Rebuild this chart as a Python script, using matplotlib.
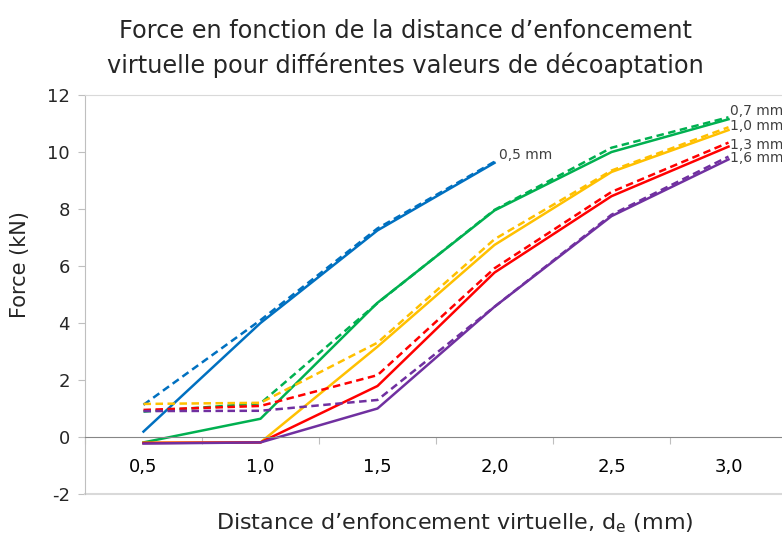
import matplotlib.pyplot as plt

# donnees
x = [0.5, 1.0, 1.5, 2.0, 2.5, 3.0]
x_labels = ["0,5", "1,0", "1,5", "2,0", "2,5", "3,0"]

f05_solid = [0.19, 4.0, 7.25, 9.62]
f05_dash = [1.13, 4.1, 7.32, 9.66]
f07_solid = [-0.19, 0.64, 4.71, 7.95, 10.0, 11.15]
f07_dash = [0.89, 1.18, 4.7, 7.97, 10.15, 11.22]
f10_solid = [-0.2, -0.19, 3.17, 6.74, 9.3, 10.77]
f10_dash = [1.16, 1.2, 3.31, 6.94, 9.35, 10.87]
f13_solid = [-0.21, -0.19, 1.79, 5.77, 8.45, 10.19]
f13_dash = [0.95, 1.09, 2.17, 5.92, 8.6, 10.33]
f16_solid = [-0.23, -0.19, 1.0, 4.57, 7.75, 9.74]
f16_dash = [0.91, 0.92, 1.3, 4.57, 7.8, 9.84]

labels = ["0,5 mm", "0,7 mm", "1,0 mm", "1,3 mm", "1,6 mm"]
label_pos = [(2.02, 9.9), (3.005, 11.44), (3.005, 10.91), (3.005, 10.25), (3.005, 9.79)]

blue = "#0070C0"
green = "#00B050"
yellow = "#FFC000"
red = "#FF0000"
purple = "#7030A0"

fig = plt.figure(figsize=(7.82, 5.39), dpi=100)
ax = fig.add_axes([0.1087, 0.0835, 0.8977, 0.7402])

lw = 1.8
ax.plot(x[:4], f05_solid, c=blue, lw=lw)
ax.plot(x[:4], f05_dash, c=blue, lw=lw, ls=(0, (3, 1.8)))
for solid, dash, col in [(f07_solid, f07_dash, green), (f10_solid, f10_dash, yellow),
                         (f13_solid, f13_dash, red), (f16_solid, f16_dash, purple)]:
    ax.plot(x, dash, c=col, lw=lw, ls=(0, (3, 1.8)))
    ax.plot(x, solid, c=col, lw=lw)

for txt, (tx, ty) in zip(labels, label_pos):
    ax.text(tx, ty, txt, fontsize=10, color="#404040", va="center", ha="left", clip_on=False)

ax.set_xlim(0.25, 3.25)
ax.set_ylim(-2, 12)
ax.set_yticks(range(-2, 13, 2))
ax.set_yticklabels([str(v) for v in range(-2, 13, 2)], color="#262626")

ax.set_xticks([0.25, 0.75, 1.25, 1.75, 2.25, 2.75, 3.25])
ax.set_xticklabels([])
ax.set_xticks(x, minor=True)
ax.set_xticklabels(x_labels, minor=True, color="#262626")
ax.tick_params(axis="x", which="minor", length=0, pad=15, labelsize=13)
ax.tick_params(axis="x", which="major", length=5, color="#BFBFBF", direction="out")
ax.tick_params(axis="y", length=5, color="#BFBFBF", direction="out", pad=6, labelsize=13)

ax.spines["bottom"].set_position(("data", 0))
ax.spines["bottom"].set_color("#868686")
ax.spines["left"].set_color("#BFBFBF")
ax.spines["top"].set_color("#D9D9D9")
ax.spines["right"].set_visible(False)
ax.axhline(-2, color="#D9D9D9", lw=1.5, clip_on=False)

ax.set_ylabel("Force (kN)", fontsize=15, color="#262626")
ax.yaxis.set_label_coords(-0.079, 0.575)
fig.text(0.582, 0.017, "Distance d’enfoncement virtuelle, d$_\\mathregular{e}$ (mm)",
         fontsize=16, color="#262626", ha="center")
fig.text(0.518, 0.9295, "Force en fonction de la distance d’enfoncement", fontsize=17.3,
         color="#262626", ha="center", va="baseline")
fig.text(0.518, 0.8646, "virtuelle pour différentes valeurs de décoaptation", fontsize=17.3,
         color="#262626", ha="center", va="baseline")

plt.savefig("out.png", dpi=100)
